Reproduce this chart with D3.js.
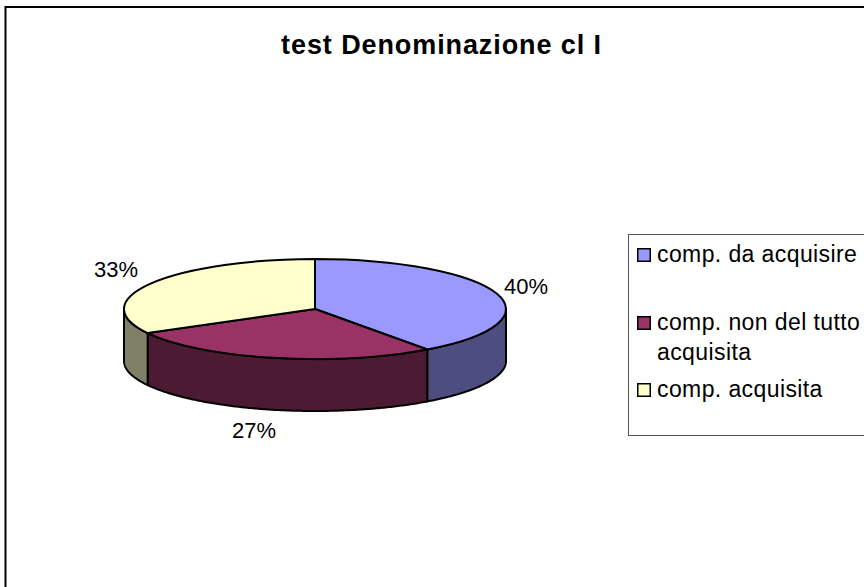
<!DOCTYPE html>
<html>
<head>
<meta charset="utf-8">
<script src="https://cdn.jsdelivr.net/npm/d3@7"></script>
<style>
  html, body { margin: 0; padding: 0; background: #fff; }
  svg { display: block; }
  text { font-family: "Liberation Sans", Arial, sans-serif; fill: #000; }
</style>
</head>
<body>
<div id="chart"></div>
<script>
const title = "test Denominazione cl I";
const categories = ["comp. da acquisire", "comp. non del tutto acquisita", "comp. acquisita"];
const legendLines = [["comp. da acquisire"], ["comp. non del tutto", "acquisita"], ["comp. acquisita"]];
const values = [40, 27, 33];
const topColors = ["#9999ff", "#993366", "#ffffcc"];
const sideColors = ["#4d4d80", "#4d1a33", "#808066"];

const width = 864;
const height = 587;

const cx = 315, cy = 309, rx = 191, ry = 50, depth = 52;

const svg = d3.select("#chart").append("svg")
    .attr("width", width)
    .attr("height", height);

// chart frame, runs off the right and bottom edges
svg.append("rect")
    .attr("x", 5.5).attr("y", 7)
    .attr("width", width + 20).attr("height", height + 20)
    .attr("fill", "#fff")
    .attr("stroke", "#000")
    .attr("stroke-width", 2);

svg.append("text")
    .attr("x", 441.5).attr("y", 54)
    .attr("text-anchor", "middle")
    .style("font-size", "27px")
    .style("font-weight", "bold")
    .style("letter-spacing", "0.9px")
    .text(title);

const pie = d3.pie().sort(null).startAngle(0).endAngle(2 * Math.PI);
const slices = pie(values);

// pie angle (0 = top, clockwise) to screen position
const px = a => cx + rx * Math.sin(a);
const py = a => cy - ry * Math.cos(a);

// front wall, only the part between 90 and 270 degrees is visible
const frontStart = Math.PI / 2, frontEnd = 3 * Math.PI / 2;
const wall = svg.append("g");
slices.forEach((s, i) => {
    const a0 = Math.max(s.startAngle, frontStart);
    const a1 = Math.min(s.endAngle, frontEnd);
    if (a1 <= a0) return;
    const angles = d3.range(a0, a1, 0.01).concat([a1]);
    const line = d3.line().x(px);
    const d = line.y(py)(angles) + "L" +
        line.y(a => py(a) + depth)(angles.slice().reverse()).slice(1) + "Z";
    wall.append("path")
        .attr("d", d)
        .attr("fill", sideColors[i])
        .attr("stroke", "#000")
        .attr("stroke-width", 2)
        .attr("stroke-linejoin", "round");
});

// top face, circular arcs squashed into the ellipse
const arc = d3.arc().innerRadius(0).outerRadius(rx);
svg.append("g")
    .attr("transform", `translate(${cx},${cy}) scale(1,${ry / rx})`)
    .selectAll("path")
    .data(slices)
    .join("path")
    .attr("d", arc)
    .attr("fill", (d, i) => topColors[i])
    .attr("stroke", "#000")
    .attr("stroke-width", 2)
    .attr("vector-effect", "non-scaling-stroke")
    .attr("stroke-linejoin", "round");

// data labels
const labelPos = [[526, 294], [254, 438], [116, 277]];
svg.append("g").selectAll("text")
    .data(values)
    .join("text")
    .attr("x", (d, i) => labelPos[i][0])
    .attr("y", (d, i) => labelPos[i][1])
    .attr("text-anchor", "middle")
    .style("font-size", "22px")
    .text(d => d + "%");

// legend, also cut off by the right edge
svg.append("rect")
    .attr("x", 628.5).attr("y", 234.5)
    .attr("width", 260).attr("height", 201)
    .attr("fill", "#fff")
    .attr("stroke", "#555")
    .attr("stroke-width", 1);

const legendY = [248, 316, 383];
const legend = svg.append("g").selectAll("g")
    .data(categories)
    .join("g")
    .attr("transform", (d, i) => `translate(637,${legendY[i]})`);

legend.append("rect")
    .attr("width", 12.5).attr("height", 12.5)
    .attr("x", 0.75).attr("y", 0.75)
    .attr("fill", (d, i) => topColors[i])
    .attr("stroke", "#000")
    .attr("stroke-width", 1.5);

legend.selectAll("text")
    .data((d, i) => legendLines[i])
    .join("text")
    .attr("x", 20)
    .attr("y", (d, i) => 14 + i * 30)
    .style("font-size", "23px")
    .style("letter-spacing", "0.4px")
    .text(d => d);
</script>
</body>
</html>
